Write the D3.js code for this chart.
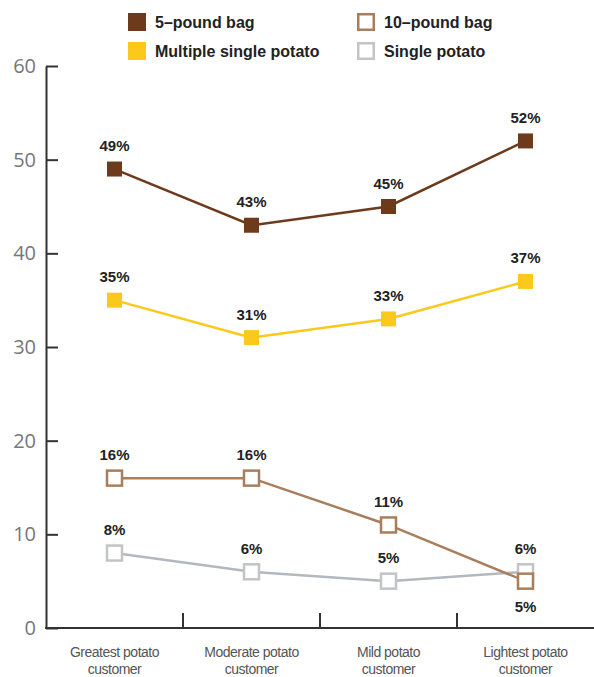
<!DOCTYPE html>
<html>
<head>
<meta charset="utf-8">
<script src="https://cdn.jsdelivr.net/npm/d3@7"></script>
<style>
  body { margin: 0; background: #fff; }
  svg { display: block; }
</style>
</head>
<body>
<div class="canvas"></div>
<script>
// data
const categories = ['Greatest potato customer', 'Moderate potato customer', 'Mild potato customer', 'Lightest potato customer'];
const fivePound = [49, 43, 45, 52];
const tenPound = [16, 16, 11, 5];
const multipleSingle = [35, 31, 33, 37];
const singlePotato = [8, 6, 5, 6];
const yTicks = [0, 10, 20, 30, 40, 50, 60];

const series = [
  {name: '5\u2013pound bag', values: fivePound, color: '#6d3a1b', filled: true, lineColor: '#6d3a1b'},
  {name: 'Multiple single potato', values: multipleSingle, color: '#fbc81c', filled: true, lineColor: '#fbc81c'},
  {name: '10\u2013pound bag', values: tenPound, color: '#a97e5c', filled: false, lineColor: '#a97e5c'},
  {name: 'Single potato', values: singlePotato, color: '#c2c4c6', filled: false, lineColor: '#b3b8bd'}
];

const W = 594, H = 677;
const margin = {top: 66, right: 0, bottom: 49, left: 46};

const svg = d3.select('.canvas')
  .append('svg')
  .attr('width', W)
  .attr('height', H);

// scales
const x = d3.scaleBand().domain(categories).range([margin.left, W - margin.right]);
const y = d3.scaleLinear().domain([0, 60]).range([H - margin.bottom, margin.top]);

// y axis
const yAxis = d3.axisLeft(y)
  .tickValues(yTicks)
  .tickSize(-12)
  .tickSizeOuter(0)
  .tickPadding(10);

const yAxisGroup = svg.append('g')
  .attr('transform', `translate(${margin.left},0)`)
  .call(yAxis);
yAxisGroup.select('.domain').attr('stroke', '#333').attr('stroke-width', 2);
yAxisGroup.selectAll('.tick line').attr('stroke', '#333').attr('stroke-width', 2);
yAxisGroup.selectAll('.tick text')
  .attr('font-family', 'Open Sans, sans-serif')
  .attr('font-size', 20)
  .attr('fill', '#777');

// x axis
const xAxisGroup = svg.append('g')
  .attr('transform', `translate(0,${y(0)})`);
xAxisGroup.append('line')
  .attr('x1', margin.left - 1).attr('x2', W)
  .attr('stroke', '#333').attr('stroke-width', 2);
xAxisGroup.selectAll('.sep')
  .data(categories.slice(1))
  .enter().append('line')
    .attr('x1', d => x(d)).attr('x2', d => x(d))
    .attr('y1', 0).attr('y2', -15)
    .attr('stroke', '#333').attr('stroke-width', 2);

const xLabels = xAxisGroup.selectAll('.xlab')
  .data(categories)
  .enter().append('text')
    .attr('x', d => x(d) + x.bandwidth() / 2)
    .attr('y', 29)
    .attr('text-anchor', 'middle')
    .attr('font-family', 'Liberation Sans Narrow, Arial Narrow, sans-serif')
    .attr('font-size', 14)
    .attr('letter-spacing', -0.5)
    .attr('fill', '#555');
xLabels.each(function(d) {
  const words = d.split(' ');
  const t = d3.select(this);
  t.append('tspan').attr('x', x(d) + x.bandwidth() / 2).text(words.slice(0, 2).join(' '));
  t.append('tspan').attr('x', x(d) + x.bandwidth() / 2).attr('dy', 17).text(words.slice(2).join(' '));
});

// lines
const cx = (d, i) => x(categories[i]) + x.bandwidth() / 2;
const line = d3.line()
  .x(cx)
  .y(d => y(d));

const drawOrder = [series[3], series[2], series[1], series[0]];

drawOrder.forEach(s => {
  svg.append('path')
    .datum(s.values)
    .attr('fill', 'none')
    .attr('stroke', s.lineColor)
    .attr('stroke-width', 2.5)
    .attr('d', line);
});

const ms = 15;
drawOrder.forEach(s => {
  svg.selectAll(null)
    .data(s.values)
    .enter().append('rect')
      .attr('x', (d, i) => cx(d, i) - ms / 2)
      .attr('y', d => y(d) - ms / 2)
      .attr('width', ms)
      .attr('height', ms)
      .attr('fill', s.filled ? s.color : '#fff')
      .attr('stroke', s.color)
      .attr('stroke-width', s.filled ? 0 : 2.5);
});

// value labels
drawOrder.forEach(s => {
  svg.selectAll(null)
    .data(s.values)
    .enter().append('text')
      .attr('x', (d, i) => cx(d, i))
      .attr('y', (d, i) => (s.name === '10\u2013pound bag' && i === 3) ? y(d) + 31 : y(d) - 18)
      .attr('text-anchor', 'middle')
      .attr('font-family', 'Liberation Sans, Arial, sans-serif')
      .attr('font-weight', 'bold')
      .attr('font-size', 15)
      .attr('fill', '#222')
      .text(d => d + '%');
});

// legend
const legendPos = [[128, 22], [128, 51], [357, 22], [357, 51]];
series.forEach((s, i) => {
  const g = svg.append('g')
    .attr('transform', `translate(${legendPos[i][0]},${legendPos[i][1]})`);
  g.append('rect')
    .attr('x', s.filled ? 0 : 1.25).attr('y', s.filled ? -9 : -7.75)
    .attr('width', s.filled ? 18 : 15.5).attr('height', s.filled ? 18 : 15.5)
    .attr('fill', s.filled ? s.color : '#fff')
    .attr('stroke', s.color)
    .attr('stroke-width', s.filled ? 0 : 2.5);
  g.append('text')
    .attr('x', 27).attr('y', 6)
    .attr('font-family', 'Liberation Sans, Arial, sans-serif')
    .attr('font-weight', 'bold')
    .attr('font-size', 16)
    .attr('fill', '#222')
    .text(s.name);
});
</script>
</body>
</html>
